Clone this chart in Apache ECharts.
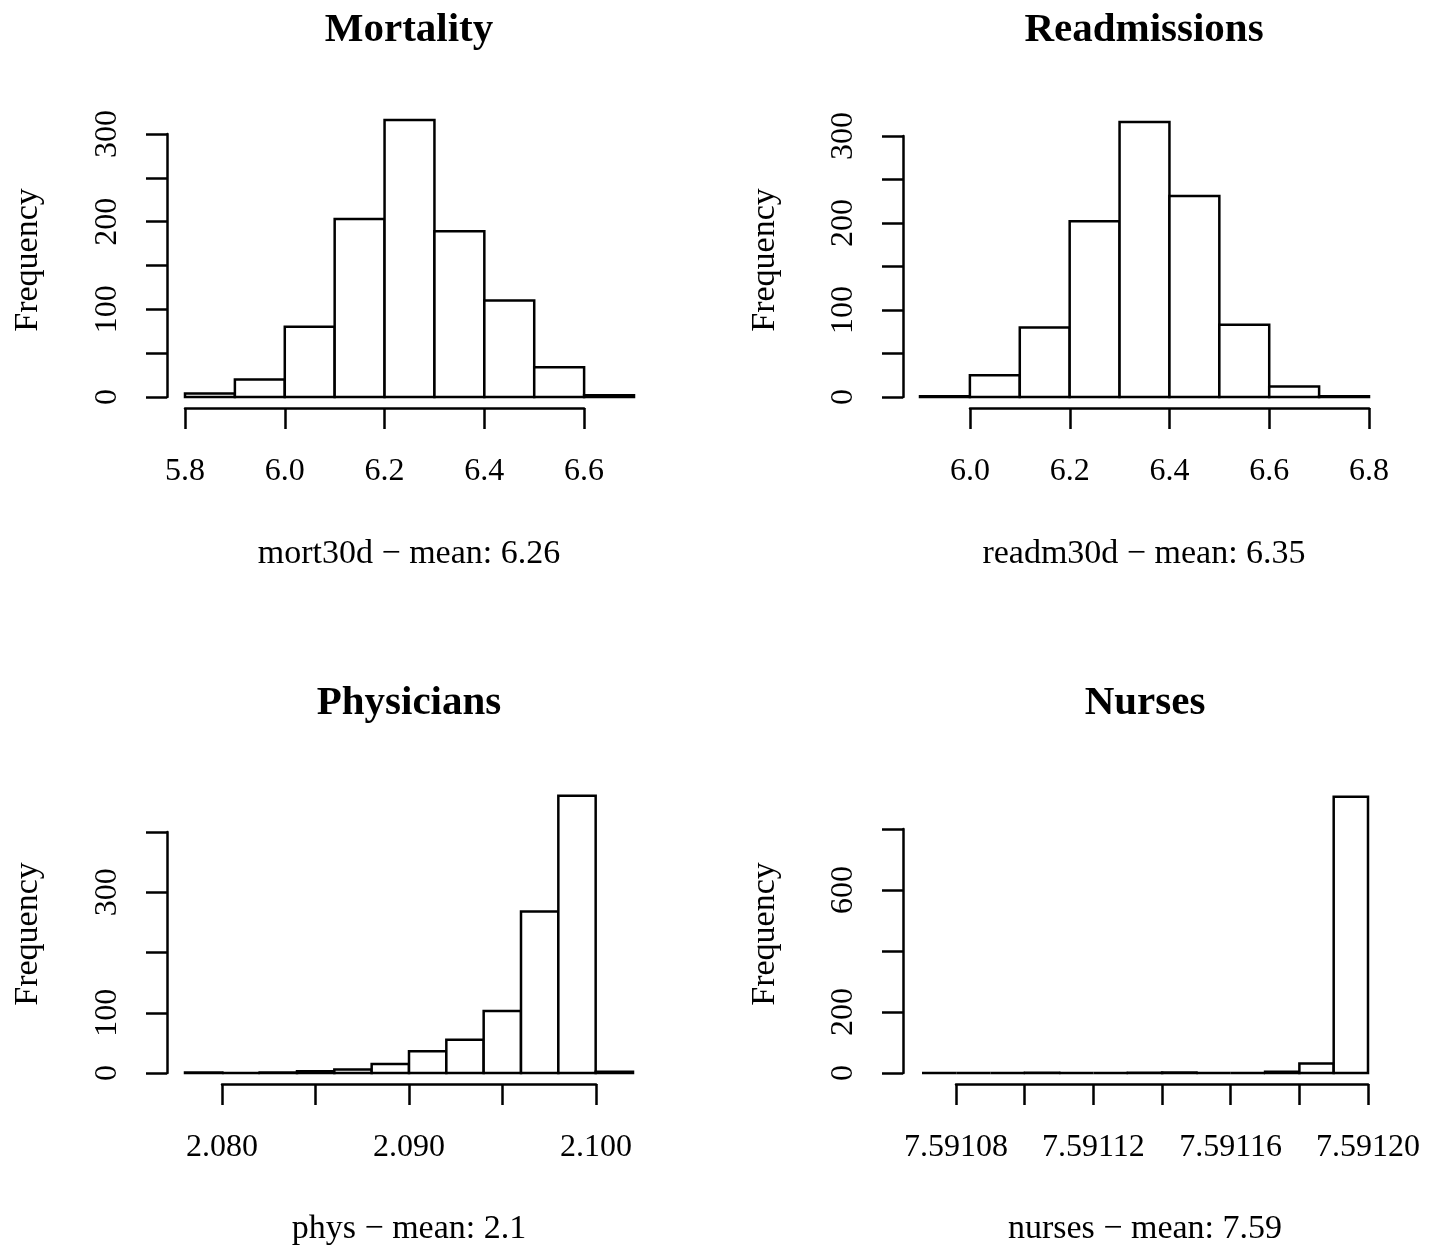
<!DOCTYPE html>
<html>
<head>
<meta charset="utf-8">
<script src="https://cdn.jsdelivr.net/npm/echarts@6/dist/echarts.min.js"></script>
<style>
  html, body { margin: 0; padding: 0; background: #fff; }
  #chart { width: 1436px; height: 1247px; }
</style>
</head>
<body>
<div id="chart"></div>
<script>
// 直方图数据：分箱边界 + 频数
const mortBreaks = [5.8, 5.9, 6.0, 6.1, 6.2, 6.3, 6.4, 6.5, 6.6, 6.7];
const mortCounts = [4, 20, 80, 203, 316, 189, 110, 34, 2];

const readmBreaks = [5.9, 6.0, 6.1, 6.2, 6.3, 6.4, 6.5, 6.6, 6.7, 6.8];
const readmCounts = [1, 25, 80, 202, 316, 231, 83, 12, 1];

const physBreaks = [2.078, 2.080, 2.082, 2.084, 2.086, 2.088, 2.090, 2.092, 2.094, 2.096, 2.098, 2.100, 2.102];
const physCounts = [1, 0, 1, 3, 6, 15, 36, 55, 103, 268, 460, 2];

const nursBreaks = [7.59107, 7.59108, 7.59109, 7.59110, 7.59111, 7.59112, 7.59113, 7.59114,
                    7.59115, 7.59116, 7.59117, 7.59118, 7.59119, 7.59120];
const nursCounts = [0, 0, 0, 1, 0, 0, 1, 2, 0, 0, 4, 31, 906];

// 刻度标签
const mortXLabels = ['5.8', '6.0', '6.2', '6.4', '6.6'];
const readmXLabels = ['6.0', '6.2', '6.4', '6.6', '6.8'];
const physXLabels = ['2.080', '2.090', '2.100'];
const nursXLabels = ['7.59108', '7.59112', '7.59116', '7.59120'];
const mortYLabels = [0, 100, 200, 300];
const readmYLabels = [0, 100, 200, 300];
const physYLabels = [0, 100, 300];
const nursYLabels = [0, 200, 600];

const titles = ['Mortality', 'Readmissions', 'Physicians', 'Nurses'];
const subTitles = ['mort30d \u2212 mean: 6.26', 'readm30d \u2212 mean: 6.35', 'phys \u2212 mean: 2.1', 'nurses \u2212 mean: 7.59'];

const FONT = '"Liberation Serif", "DejaVu Serif", serif';
const LW = 2.5;

/**每个面板的布局（像素） */
const panels = [
  { breaks: mortBreaks, counts: mortCounts, xLabels: mortXLabels, yLabels: mortYLabels,
    xMin: 5.8, xMax: 6.6, xStep: 0.2, dec: 1, yMax: 300, yStep: 50,
    barLeft: 185, barWidth: 449, axLeft: 185, axWidth: 399, top: 134, height: 263, yLine: 167,
    cx: 409, titleY: 30, subY: 554, freqX: 28, freqY: 260 },
  { breaks: readmBreaks, counts: readmCounts, xLabels: readmXLabels, yLabels: readmYLabels,
    xMin: 6.0, xMax: 6.8, xStep: 0.2, dec: 1, yMax: 300, yStep: 50,
    barLeft: 920, barWidth: 449, axLeft: 970, axWidth: 399, top: 136, height: 261, yLine: 903,
    cx: 1144, titleY: 30, subY: 554, freqX: 765, freqY: 260 },
  { breaks: physBreaks, counts: physCounts, xLabels: physXLabels, yLabels: physYLabels,
    xMin: 2.080, xMax: 2.100, xStep: 0.005, dec: 3, yMax: 400, yStep: 100,
    barLeft: 185, barWidth: 448, axLeft: 222, axWidth: 374, top: 832, height: 241, yLine: 167,
    cx: 409, titleY: 703, subY: 1229, freqX: 28, freqY: 934 },
  { breaks: nursBreaks, counts: nursCounts, xLabels: nursXLabels, yLabels: nursYLabels,
    xMin: 7.59108, xMax: 7.59120, xStep: 0.00002, dec: 5, yMax: 800, yStep: 200,
    barLeft: 922, barWidth: 446, axLeft: 956, axWidth: 412, top: 829, height: 244, yLine: 903,
    cx: 1145, titleY: 703, subY: 1229, freqX: 765, freqY: 934 }
];

const grids = [], xAxes = [], yAxes = [], series = [], graphics = [];
const lineStyle = { color: '#000', width: LW };

function renderBin(params, api) {
  const p0 = api.coord([api.value(0), api.value(2)]);
  const p1 = api.coord([api.value(1), 0]);
  return {
    type: 'rect',
    shape: { x: p0[0], y: p0[1], width: p1[0] - p0[0], height: p1[1] - p0[1] },
    style: { fill: '#fff', stroke: '#000', lineWidth: LW }
  };
}

function centerText(x, y, text, font, rotation) {
  return { type: 'text', x: x, y: y, rotation: rotation || 0,
    style: { text: text, font: font, fill: '#000',
      align: 'center', verticalAlign: 'middle', textAlign: 'center', textVerticalAlign: 'middle' } };
}

panels.forEach((p, i) => {
  const a = 2 * i, b = 2 * i + 1;
  // 柱子所在网格
  grids.push({ left: p.barLeft, top: p.top, width: p.barWidth, height: p.height });
  // x轴所在网格（只覆盖刻度范围）
  grids.push({ left: p.axLeft, top: p.top, width: p.axWidth, height: p.height });

  xAxes.push({ gridIndex: a, type: 'value', show: false,
    min: p.breaks[0], max: p.breaks[p.breaks.length - 1] });
  xAxes.push({
    gridIndex: b, type: 'value', position: 'bottom', offset: 11,
    min: p.xMin, max: p.xMax, interval: p.xStep,
    axisLine: { show: true, onZero: false, lineStyle: lineStyle },
    axisTick: { show: true, length: 21, lineStyle: lineStyle },
    splitLine: { show: false },
    axisLabel: {
      margin: 48, fontSize: 32, fontFamily: FONT, color: '#000',
      showMinLabel: true, showMaxLabel: true,
      formatter: (v) => {
        const s = v.toFixed(p.dec);
        return p.xLabels.indexOf(s) >= 0 ? s : '';
      }
    }
  });

  yAxes.push({
    gridIndex: a, type: 'value', position: 'left', offset: p.barLeft - p.yLine,
    min: 0, max: p.yMax, interval: p.yStep,
    axisLine: { show: true, onZero: false, lineStyle: lineStyle },
    axisTick: { show: true, length: 21, lineStyle: lineStyle },
    splitLine: { show: false },
    axisLabel: {
      rotate: 90, margin: 43, fontSize: 32, fontFamily: FONT, color: '#000',
      formatter: (v) => p.yLabels.indexOf(Math.round(v)) >= 0 ? String(Math.round(v)) : ''
    }
  });
  yAxes.push({ gridIndex: b, type: 'value', show: false, min: 0, max: p.yMax });

  const rows = p.counts.map((c, k) => [p.breaks[k], p.breaks[k + 1], c]);
  series.push({
    type: 'custom', xAxisIndex: a, yAxisIndex: a,
    renderItem: renderBin, data: rows, encode: { x: [0, 1], y: 2 },
    silent: true, clip: false
  });

  graphics.push(centerText(p.cx, p.titleY, titles[i], 'bold 41px ' + FONT));
  graphics.push(centerText(p.cx, p.subY, subTitles[i], '34px ' + FONT));
  graphics.push(centerText(p.freqX, p.freqY, 'Frequency', '34px ' + FONT, Math.PI / 2));
});

let myChart = echarts.init(document.getElementById('chart'), null, { renderer: 'canvas' });
myChart.setOption({
  backgroundColor: '#fff',
  animation: false,
  grid: grids,
  xAxis: xAxes,
  yAxis: yAxes,
  series: series,
  graphic: graphics
});
</script>
</body>
</html>
